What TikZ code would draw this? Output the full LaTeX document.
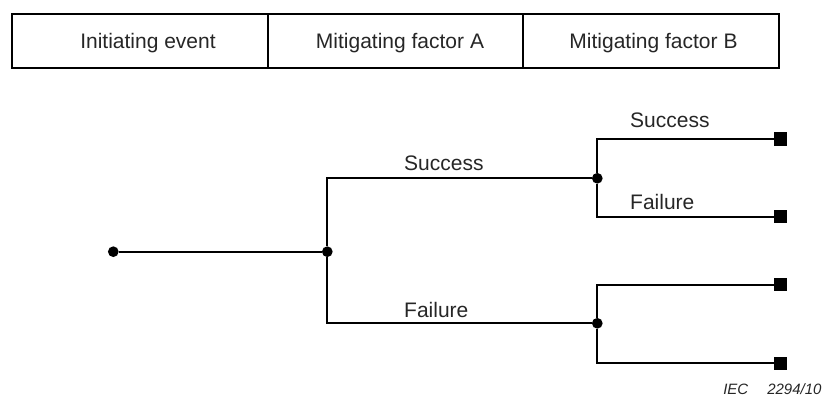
\documentclass[tikz,border=0pt]{standalone}
\usepackage{fontspec}
\setmainfont{Liberation Sans}
\begin{document}
\begin{tikzpicture}[x=1pt,y=-1pt,
  line/.style={line width=1.8pt,draw=black},
  cell/.style={line, rectangle, minimum width=255.3pt, minimum height=53.7pt, inner sep=0pt},
  head/.style={text=black!85, font=\fontsize{21}{25}\selectfont, inner sep=0pt, anchor=base},
  lbl/.style={text=black!85, font=\fontsize{21}{25}\selectfont, inner sep=0pt, anchor=base west},
  dot/.style={circle, fill=black, minimum size=10.7pt, inner sep=0pt},
  term/.style={rectangle, fill=black, minimum size=13pt, inner sep=0pt}]
  \useasboundingbox (0,0) rectangle (823,396);

  % column headings
  \node[cell] (c1) at (139.85,40.85) {};
  \node[cell] (c2) at (395.5,40.85) {};
  \node[cell] (c3) at (651.1,40.85) {};
  \node[head] (h1) at (148,48.3) {Initiating event};
  \node[head] (h2) at (400,48.3) {Mitigating factor A};
  \node[head] (h3) at (653.5,48.3) {Mitigating factor B};

  % branch points
  \node[dot] (start) at (113.3,251.7) {};
  \node[dot] (fa) at (327.3,251.7) {};
  \node[dot] (fbs) at (597.3,178.3) {};
  \node[dot] (fbf) at (597.3,323.3) {};

  % outcomes
  \node[term] (o1) at (780.8,139) {};
  \node[term] (o2) at (780.8,216.7) {};
  \node[term] (o3) at (780.8,284.8) {};
  \node[term] (o4) at (780.8,363.3) {};

  % tree connectors
  \draw[line] (start) -- (fa);
  \draw[line] (fa) |- (fbs);
  \draw[line] (fa) |- (fbf);
  \draw[line] (fbs) |- (o1);
  \draw[line] (fbs) |- (o2);
  \draw[line] (fbf) |- (o3);
  \draw[line] (fbf) |- (o4);

  % branch labels
  \node[lbl] (ls1) at (404,170.7) {Success};
  \node[lbl] (lf1) at (404,317.3) {Failure};
  \node[lbl] (ls2) at (630,128) {Success};
  \node[lbl] (lf2) at (630,209) {Failure};

  % figure reference
  \node[text=black!85, font=\fontsize{15}{18}\selectfont\itshape, inner sep=0pt, anchor=base east] (ref) at (821.7,394) {IEC\hspace{19pt}2294/10};
\end{tikzpicture}
\end{document}
